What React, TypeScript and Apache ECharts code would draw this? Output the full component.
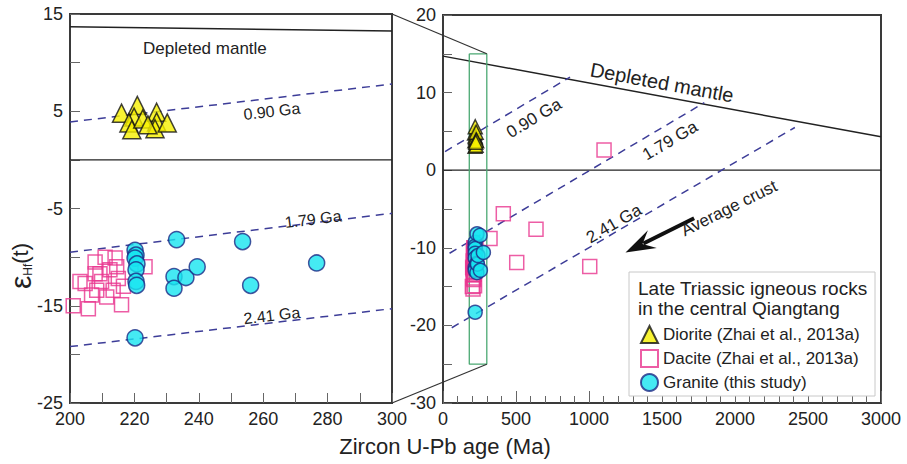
import { useEffect, useRef } from 'react';
import * as echarts from 'echarts';

const FONT = '"Liberation Sans", Arial, Helvetica, sans-serif';

// Axis ranges
const leftAge = [200, 300];
const leftEps = [-25, 15];
const rightAge = [0, 3000];
const rightEps = [-30, 20];

// Samples: [age (Ma), eHf(t)]
const diorite: number[][] = [
  [216, 4.8], [220.9, 5.6], [219.9, 4.4], [218.3, 3.8], [219.2, 3.1], [222.6, 4.2],
  [226.9, 4.9], [226.9, 3.9], [226.4, 3.2], [230.2, 3.8], [224.2, 3.6],
];
const daciteYoung: number[][] = [
  [201, -15.0], [205.7, -15.3], [204.7, -12.7], [208.3, -13.4], [207.8, -10.5], [210.9, -10],
  [209.3, -11.7], [212.4, -11.3], [214, -10.1], [215, -12.2], [216, -14.9], [211.4, -14.1],
  [203.1, -12.5], [206.7, -13.9], [213.4, -13.4], [216.6, -13], [223.3, -11], [207.8, -11.7],
  [209.8, -12.5], [214.5, -11],
];
const daciteOld: number[][] = [
  [322, -8.8], [413, -5.6], [637, -7.6], [505, -11.9], [1005, -12.4], [1103, 2.6],
];
const granite: number[][] = [
  [220.2, -9.3], [220.5, -9.8], [220.2, -10.1], [220.8, -10.7], [220.5, -11.3], [220.5, -12.5],
  [220.7, -12.9], [220.2, -18.3], [233.1, -8.2], [232.3, -12], [232.3, -13.2], [236, -12.1],
  [239.5, -11], [253.6, -8.4], [256.1, -12.9], [276.6, -10.6],
];

// Reference lines
const dmLeft = [[200, 13.7], [300, 13.25]];
const dmRight = [[0, 14.7], [3000, 4.3]];
const zeroLeft = [[200, 0], [300, 0]];
const zeroRight = [[0, 0], [3000, 0]];
const ga090Left = [[200, 3.9], [300, 7.8]];
const ga179Left = [[200, -9.5], [300, -5.5]];
const ga241Left = [[200, -19.2], [300, -15.3]];
const ga090Right = [[14, 2.4], [870, 12.0]];
const ga179Right = [[45, -10.7], [1790, 8.7]];
const ga241Right = [[60, -20.3], [2410, 5.5]];
const zoomBox = [[180, 15], [300, 15], [300, -25], [180, -25], [180, 15]];

// Annotation anchors (data coordinates)
const leftLabels = [
  { text: 'Depleted mantle', at: [241.9, 11.5], line: null as number[][] | null, size: 17 },
  { text: '0.90 Ga', at: [262.7, 5.0], line: ga090Left, size: 16 },
  { text: '1.79 Ga', at: [275.5, -6.1], line: ga179Left, size: 16 },
  { text: '2.41 Ga', at: [262.7, -16.0], line: ga241Left, size: 16 },
];
const rightLabels = [
  { text: 'Depleted mantle', at: [1500, 11.3], line: dmRight, size: 20 },
  { text: '0.90 Ga', at: [623, 6.7], line: ga090Right, size: 17 },
  { text: '1.79 Ga', at: [1555, 3.8], line: ga179Right, size: 17 },
  { text: '2.41 Ga', at: [1171, -6.9], line: ga241Right, size: 17 },
];
const crustLabel = { text: 'Average crust', at: [1960, -4.9] };
const crustArrow = { tail: [1720, -6.2], head: [1250, -10.6] };

const DIO = 'Diorite (Zhai et al., 2013a)';
const DAC = 'Dacite (Zhai et al., 2013a)';
const GRA = 'Granite (this study)';

const AXIS_COLOR = '#3a3a3a';
const DASH_COLOR = '#3d3d98';

function makeAxis(min: number, max: number, interval: number, split: number, gridIndex: number, minorLen: number, majorLen: number) {
  return {
    gridIndex,
    type: 'value',
    min,
    max,
    interval,
    axisLine: { show: true, onZero: false, lineStyle: { color: AXIS_COLOR, width: 2 } },
    axisTick: { show: true, inside: true, length: majorLen, lineStyle: { color: '#666', width: 1 } },
    minorTick: { show: true, splitNumber: split, length: minorLen, lineStyle: { color: '#666', width: 1 } },
    splitLine: { show: false },
    minorSplitLine: { show: false },
    axisLabel: {
      color: '#222', fontSize: 18, fontFamily: FONT, margin: 7,
      showMinLabel: true, showMaxLabel: true, hideOverlap: false,
      formatter: (v: number) => String(v),
    },
  };
}

function lineSeries(data: number[][], idx: number, color: string, width: number, dashed: boolean, z = 2) {
  return {
    type: 'line',
    xAxisIndex: idx,
    yAxisIndex: idx,
    data,
    symbol: 'none',
    silent: true,
    z,
    lineStyle: { color, width, type: dashed ? [8, 6] : 'solid' },
  };
}

function scatter(name: string, data: number[][], idx: number, kind: 'dio' | 'dac' | 'gra', size: number) {
  const styles: any = {
    dio: { symbol: 'triangle', itemStyle: { color: '#f6f000', borderColor: '#111', borderWidth: 1.5 } },
    dac: { symbol: 'rect', itemStyle: { color: 'rgba(255,255,255,0)', borderColor: '#e8358f', borderWidth: 1.5 } },
    gra: { symbol: 'circle', itemStyle: { color: '#17e5f0', borderColor: '#1c2a86', borderWidth: 1.5 } },
  };
  return {
    type: 'scatter',
    name,
    xAxisIndex: idx,
    yAxisIndex: idx,
    data,
    symbolSize: size,
    silent: true,
    z: 3,
    ...styles[kind],
  };
}

export default function App() {
  const ref = useRef<HTMLDivElement>(null);
  useEffect(() => {
    const chart = echarts.init(ref.current!, null, { renderer: 'svg' });
    const option: any = {
      animation: false,
      backgroundColor: '#fff',
      textStyle: { fontFamily: FONT },
      grid: [
        { left: 70, top: 14, width: 322, height: 389, show: true, borderColor: AXIS_COLOR, borderWidth: 2, backgroundColor: 'transparent' },
        { left: 443, top: 15, width: 438, height: 388, show: true, borderColor: AXIS_COLOR, borderWidth: 2, backgroundColor: 'transparent' },
      ],
      xAxis: [
        makeAxis(leftAge[0], leftAge[1], 20, 2, 0, 10, 10),
        makeAxis(rightAge[0], rightAge[1], 500, 5, 1, 7, 12),
      ],
      yAxis: [
        makeAxis(leftEps[0], leftEps[1], 10, 2, 0, 10, 10),
        makeAxis(rightEps[0], rightEps[1], 10, 2, 1, 9, 9),
      ],
      legend: {
        left: 635,
        top: 320,
        orient: 'vertical',
        itemGap: 5,
        itemWidth: 17,
        itemHeight: 17,
        selectedMode: false,
        textStyle: { fontSize: 17, color: '#222', fontFamily: FONT },
        data: [
          { name: DIO, icon: 'triangle' },
          { name: DAC, icon: 'rect' },
          { name: GRA, icon: 'circle' },
        ],
        z: 6,
      },
      series: [
        lineSeries(dmLeft, 0, '#222', 1.5, false),
        lineSeries(zeroLeft, 0, '#222', 1.3, false),
        lineSeries(ga090Left, 0, DASH_COLOR, 1.5, true),
        lineSeries(ga179Left, 0, DASH_COLOR, 1.5, true),
        lineSeries(ga241Left, 0, DASH_COLOR, 1.5, true),
        lineSeries(dmRight, 1, '#222', 1.5, false),
        lineSeries(zeroRight, 1, '#222', 1.3, false),
        lineSeries(ga090Right, 1, DASH_COLOR, 1.5, true),
        lineSeries(ga179Right, 1, DASH_COLOR, 1.5, true),
        lineSeries(ga241Right, 1, DASH_COLOR, 1.5, true),
        lineSeries(zoomBox, 1, '#4aa872', 1.3, false),
        scatter(DAC, daciteYoung, 0, 'dac', 14),
        scatter(DIO, diorite, 0, 'dio', 18),
        scatter(GRA, granite, 0, 'gra', 16),
        scatter(DAC, daciteYoung.concat(daciteOld), 1, 'dac', 14),
        scatter(DIO, diorite, 1, 'dio', 14),
        scatter(GRA, granite, 1, 'gra', 14),
      ],
    };
    chart.setOption(option);

    const p0 = (pt: number[]) => chart.convertToPixel({ gridIndex: 0 } as any, pt) as number[];
    const p1 = (pt: number[]) => chart.convertToPixel({ gridIndex: 1 } as any, pt) as number[];
    const angleOf = (conv: (p: number[]) => number[], line: number[][] | null) => {
      if (!line) return 0;
      const a = conv(line[0]);
      const b = conv(line[line.length - 1]);
      return Math.atan2(a[1] - b[1], b[0] - a[0]);
    };

    const graphics: any[] = [];
    const addLabel = (conv: (p: number[]) => number[], l: { text: string; at: number[]; line: number[][] | null; size: number }) => {
      const [x, y] = conv(l.at);
      graphics.push({
        type: 'text',
        x,
        y,
        rotation: angleOf(conv, l.line),
        z: 5,
        silent: true,
        style: { text: l.text, fill: '#222', font: `${l.size}px ${FONT}`, align: 'center', verticalAlign: 'middle' },
      });
    };
    leftLabels.forEach((l) => addLabel(p0, l));
    rightLabels.forEach((l) => addLabel(p1, l));

    // Average crust arrow
    const t = p1(crustArrow.tail);
    const h = p1(crustArrow.head);
    const ang = Math.atan2(h[1] - t[1], h[0] - t[0]);
    const ux = Math.cos(ang), uy = Math.sin(ang);
    const headLen = 26, headW = 10;
    const bx = h[0] - ux * headLen, by = h[1] - uy * headLen;
    graphics.push({
      type: 'line', z: 5, silent: true,
      shape: { x1: t[0], y1: t[1], x2: bx + ux * 6, y2: by + uy * 6 },
      style: { stroke: '#111', lineWidth: 4 },
    });
    graphics.push({
      type: 'polygon', z: 5, silent: true,
      shape: { points: [[h[0], h[1]], [bx - uy * headW - ux * 4, by + ux * headW - uy * 4], [bx + ux * 7, by + uy * 7], [bx + uy * headW - ux * 4, by - ux * headW - uy * 4]] },
      style: { fill: '#111' },
    });
    const [cx, cy] = p1(crustLabel.at);
    graphics.push({
      type: 'text', x: cx, y: cy, rotation: -ang - Math.PI, z: 5, silent: true,
      style: { text: crustLabel.text, fill: '#222', font: `17px ${FONT}`, align: 'center', verticalAlign: 'middle' },
    });

    // Connector lines between left panel and the zoom box in the right panel
    const lt = p0([leftAge[1], leftEps[1]]);
    const lb = p0([leftAge[1], leftEps[0]]);
    const bt = p1([300, 15]);
    const bb = p1([300, -25]);
    graphics.push({ type: 'line', z: 5, silent: true, shape: { x1: lt[0], y1: lt[1], x2: bt[0], y2: bt[1] }, style: { stroke: '#333', lineWidth: 1.2 } });
    graphics.push({ type: 'line', z: 5, silent: true, shape: { x1: lb[0], y1: lb[1], x2: bb[0], y2: bb[1] }, style: { stroke: '#333', lineWidth: 1.2 } });

    // Legend box and heading
    graphics.push({ type: 'rect', z: 4, silent: true, shape: { x: 629, y: 272, width: 246, height: 124 }, style: { fill: '#fff', stroke: '#c8c8c8', lineWidth: 1 } });
    graphics.push({ type: 'text', z: 6, silent: true, x: 638, y: 288, style: { text: 'Late Triassic igneous rocks', fill: '#222', font: `19px ${FONT}`, verticalAlign: 'middle' } });
    graphics.push({ type: 'text', z: 6, silent: true, x: 638, y: 308, style: { text: 'in the central Qiangtang', fill: '#222', font: `19px ${FONT}`, verticalAlign: 'middle' } });

    // Axis titles
    graphics.push({
      type: 'text', z: 5, silent: true, x: 445, y: 446,
      style: { text: 'Zircon U-Pb age (Ma)', fill: '#222', font: `22px ${FONT}`, align: 'center', verticalAlign: 'middle' },
    });
    graphics.push({
      type: 'text', z: 5, silent: true, x: 20, y: 266, rotation: Math.PI / 2,
      style: {
        text: '{e|ε}{s|Hf}{t|(t)}',
        fill: '#222',
        align: 'center',
        verticalAlign: 'middle',
        rich: {
          e: { fontSize: 30, fontFamily: FONT, fill: '#222', lineHeight: 28 },
          s: { fontSize: 12, fontFamily: FONT, fill: '#222', verticalAlign: 'bottom', lineHeight: 12 },
          t: { fontSize: 22, fontFamily: FONT, fill: '#222', lineHeight: 24 },
        },
      },
    });

    chart.setOption({ graphic: graphics });
    return () => chart.dispose();
  }, []);
  return <div ref={ref} style={{ position: 'fixed', left: 0, top: 0, width: 907, height: 464, background: '#fff' }} />;
}
